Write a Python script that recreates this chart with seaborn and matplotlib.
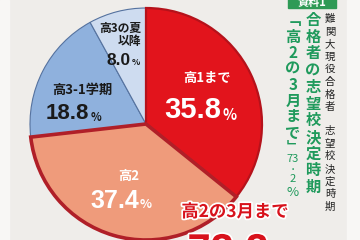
import matplotlib
matplotlib.use("Agg")
import matplotlib.pyplot as plt
import matplotlib.patheffects as pe
import numpy as np
import seaborn as sns

# ---- data ----
categories = ["高1まで", "高2", "高3-1学期", "高3の夏\n以降"]
values = [35.8, 37.4, 18.8, 8.0]
value_labels = ["35.8", "37.4", "18.8", "8.0"]
colors = ["#e2141c", "#ef9b7b", "#8fb1dd", "#cedcf0"]
edge_colors = ["#b5121b", "#b01f28", "#55729f", "#55729f"]
edge_widths = [1.6, 2.6, 0.8, 0.8]
text_colors = ["white", "white", "#1a1a1a", "#1a1a1a"]
callout_label = "高2の3月まで"
callout_value = "73.2"
title_green_1 = "合格者の志望校決定時期"
title_green_2 = ["﹁", "高", "2", "の", "3", "月", "ま", "で", "﹂", "73", "・", "2", "%"]
title_black_1 = "難関大現役合格者"
title_black_2 = "志望校決定時期"
badge = "資料1"

sns.set_theme(style="white")
plt.rcParams["font.family"] = ["Noto Sans CJK JP", "DejaVu Sans"]

W, H = 360, 240
fig = plt.figure(figsize=(3.6, 2.4), dpi=100)
fig.patch.set_facecolor("#efedea")
ax = fig.add_axes([0, 0, 1, 1])
ax.set_facecolor("#efedea")

def py(y):  # pixel-from-top -> data y
    return H - y

# background strips
ax.add_patch(plt.Rectangle((0, 0), 9, H, color="#f8f7f5", zorder=0))
ax.add_patch(plt.Rectangle((347, 0), 13, H, color="#f8f7f5", zorder=0))

cx, cy, R = 146, py(124), 116
wedges, _ = ax.pie(values, colors=colors, startangle=90, counterclock=False,
                   center=(cx, cy), radius=R,
                   wedgeprops=dict(linewidth=0.8))
for w, ec, lw in zip(wedges, edge_colors, edge_widths):
    w.set_edgecolor(ec)
    w.set_linewidth(lw)
wedges[1].set_zorder(3)
wedges[0].set_zorder(2)

# label placement from wedge angles
rfrac = [0.58, 0.53, 0.62, 0.72]
num_sizes = [21, 18, 16, 12.5]
name_sizes = [9.5, 9.5, 9.5, 8.5]
name_dy = [17, 7, 1, 8]
num_dy = [-15, -18, -23, -17]
name_dx = [0, 0, 0, 16]
num_dx = [5, 2, 0, 0]
name_ha = ["center", "center", "center", "right"]
for i, w in enumerate(wedges):
    th = np.deg2rad((w.theta1 + w.theta2) / 2)
    x = cx + rfrac[i] * R * np.cos(th)
    y = cy + rfrac[i] * R * np.sin(th)
    ax.text(x + name_dx[i], y + name_dy[i], categories[i], ha=name_ha[i], va="center",
            multialignment="right", fontsize=name_sizes[i], fontweight="bold",
            color=text_colors[i], linespacing=0.95, zorder=5)
    xn = x + num_dx[i] + num_sizes[i] * 0.45
    ax.text(xn, y + num_dy[i], value_labels[i], ha="right",
            va="center", fontsize=num_sizes[i], fontweight="bold",
            color=text_colors[i], zorder=5, family=["Liberation Sans", "DejaVu Sans"])
    ax.text(xn + 1, y + num_dy[i] - num_sizes[i] * 0.22, "%",
            ha="left", va="center", fontsize=num_sizes[i] * 0.5, fontweight="bold",
            color=text_colors[i], zorder=5)

# callout
stroke = [pe.withStroke(linewidth=2.5, foreground="white")]
ax.text(235, py(212), callout_label, ha="center", va="center", fontsize=12.5,
        fontweight="bold", color="#d8121c", path_effects=stroke, zorder=6)
ax.text(228, py(252), callout_value, ha="center", va="center", fontsize=30,
        fontweight="bold", color="#d8121c", path_effects=stroke, zorder=6,
        family=["Liberation Sans", "DejaVu Sans"])

# badge
ax.add_patch(plt.Rectangle((288, py(8)), 48, 12, color="#2e9a55", zorder=4))
ax.text(312, py(2), badge, ha="center", va="center", fontsize=8,
        fontweight="bold", color="white", zorder=5)

# vertical texts
green = "#1f9a5c"
for k, ch in enumerate(title_green_1):
    ax.text(313, py(20 + k * 16.7), ch, ha="center", va="center", fontsize=11,
            fontweight="bold", color=green, zorder=5)
ys2 = [20, 36.5, 52.5, 68.5, 84.5, 100.5, 116.5, 132.5, 147, 159.5, 169, 179, 192.5]
fs2 = [11] * 8 + [9, 8, 6, 8, 9.5]
for k, ch in enumerate(title_green_2):
    ax.text(293, py(ys2[k]), ch, ha="center", va="center", fontsize=fs2[k],
            fontweight="bold" if k < 9 else "normal", color=green, zorder=5)
for k, ch in enumerate(title_black_1):
    ax.text(330, py(19 + k * 12.6), ch, ha="center", va="center", fontsize=7.5,
            color="#222222", zorder=5)
for k, ch in enumerate(title_black_2):
    ax.text(330, py(131 + k * 12.6), ch, ha="center", va="center", fontsize=7.5,
            color="#222222", zorder=5)

ax.set_xlim(0, W)
ax.set_ylim(0, H)
ax.set_aspect("equal")
ax.axis("off")
fig.savefig("out.png", dpi=100, facecolor=fig.get_facecolor())
